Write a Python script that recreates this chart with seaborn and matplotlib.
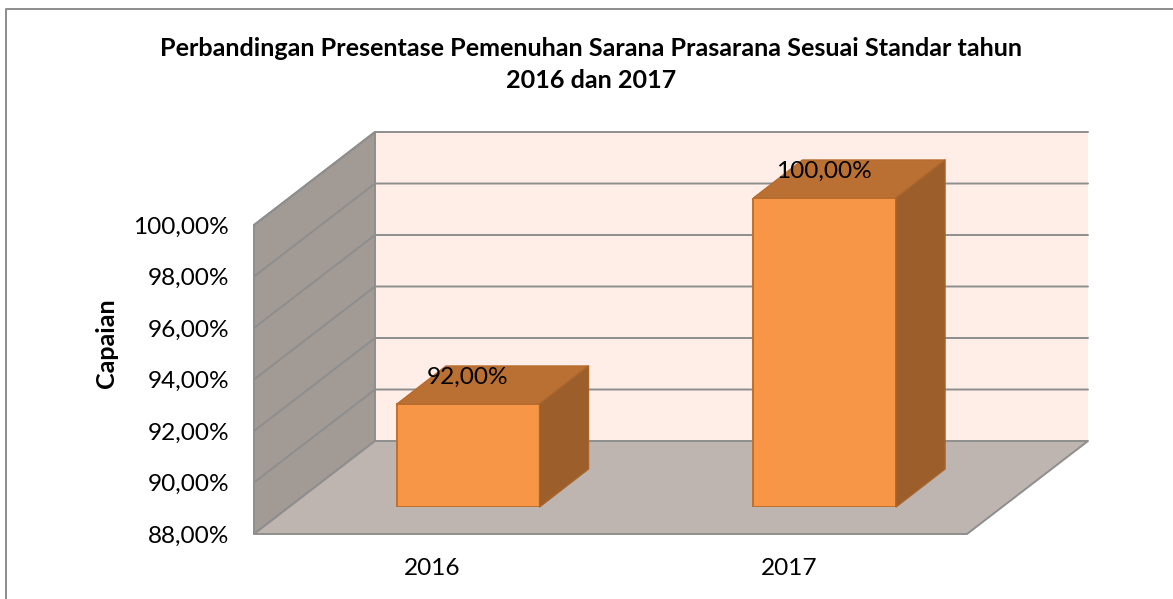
import matplotlib
matplotlib.use('Agg')
import matplotlib.pyplot as plt
import seaborn as sns
from matplotlib.patches import Polygon
from matplotlib.transforms import IdentityTransform

# Data
tahun = ['2016', '2017']
capaian = [92.0, 100.0]
y_ticks = [88, 90, 92, 94, 96, 98, 100]
judul = 'Perbandingan Presentase Pemenuhan Sarana Prasarana Sesuai Standar tahun\n2016 dan 2017'

W, H = 1173, 599
Y_MIN, Y_MAX = 88, 100

sns.set_theme(style='white')
plt.rcParams['font.family'] = ['Lato', 'DejaVu Sans']

fig = plt.figure(figsize=(W / 100, H / 100), dpi=100)


def pixel_axes(left, top, right, bottom):
    # axes placed by image pixels (y counted from the top)
    return fig.add_axes([left / W, 1 - bottom / H, (right - left) / W, (bottom - top) / H])


def tick_label(v):
    return f'{v:.2f}'.replace('.', ',') + '%'


# front plane of the 3D box holds the axis labels
ax = pixel_axes(254, 225, 967, 534)
ax.set_xlim(-0.5, 1.5)
ax.set_ylim(Y_MIN, Y_MAX)
ax.patch.set_visible(False)
for s in ax.spines.values():
    s.set_visible(False)
ax.set_xticks(range(len(tahun)), tahun)
ax.set_yticks(y_ticks, [tick_label(v) for v in y_ticks])
ax.tick_params(length=0, labelsize=17.6, labelcolor='black', pad=18, axis='y')
ax.tick_params(length=0, labelsize=17.6, labelcolor='black', pad=17, axis='x')
ax.set_ylabel('Capaian', fontsize=18, fontweight='bold', color='black')
ax.yaxis.set_label_coords(-0.191, 0.618)

fig.canvas.draw()
pix = IdentityTransform()
DX, DY = 121, 93  # depth of the box, pixels
GRID = '#8e8e8e'


def front(x, y):
    return ax.transData.transform((x, y))


def back(x, y):
    return front(x, y) + (DX, DY)


def face(points, color, target, edge='none', lw=0.0):
    target.add_patch(Polygon(points, closed=True, facecolor=color, edgecolor=edge, linewidth=lw,
                             transform=pix, clip_on=False, joinstyle='round'))


x0, x1 = ax.get_xlim()
face([back(x0, Y_MIN), back(x1, Y_MIN), back(x1, Y_MAX), back(x0, Y_MAX)], '#feeee7', ax)
face([front(x0, Y_MIN), back(x0, Y_MIN), back(x0, Y_MAX), front(x0, Y_MAX)], '#a29a95', ax, GRID, 1.4)
face([front(x0, Y_MIN), front(x1, Y_MIN), back(x1, Y_MIN), back(x0, Y_MIN)], '#bfb5b0', ax, GRID, 1.4)

for v in y_ticks[1:]:
    p0, p1, p2 = front(x0, v), back(x0, v), back(x1, v)
    ax.plot([p0[0], p1[0], p2[0]], [p0[1], p1[1], p2[1]], color=GRID, lw=1.4, transform=pix, clip_on=False)

# bars stand part way into the box
ax_bar = pixel_axes(290, 198, 1003, 507)
ax_bar.patch.set_visible(False)
sns.barplot(x=tahun, y=capaian, ax=ax_bar, color='#f79646', saturation=1, width=0.4,
            edgecolor='#c0702e', linewidth=1.4)
ax_bar.set_xlim(-0.5, 1.5)
ax_bar.set_ylim(Y_MIN, Y_MAX)
ax_bar.axis('off')
fig.canvas.draw()

BX, BY = 49, 38  # bar depth, pixels
for bar, val in zip(ax_bar.patches, capaian):
    bar.set_y(Y_MIN)
    bar.set_height(val - Y_MIN)
    l, r = bar.get_x(), bar.get_x() + bar.get_width()
    a = ax_bar.transData.transform((l, val))
    b = ax_bar.transData.transform((r, val))
    c = ax_bar.transData.transform((r, Y_MIN))
    off = (BX, BY)
    face([a, b, b + off, a + off], '#ba7033', ax_bar, '#b56a2e', 1.0)
    face([b, c, c + off, b + off], '#9c5e2a', ax_bar, '#a9652c', 1.0)
    ax_bar.annotate(tick_label(val), xy=((l + r) / 2, val), xytext=(-0.5, 27), textcoords='offset pixels',
                    ha='center', va='center', fontsize=17.6, color='black', zorder=5)

fig.text(591 / W, 1 - 64.5 / H, judul, ha='center', va='center', fontsize=18.1, fontweight='bold',
         color='black', linespacing=1.52)

# chart frame: only the left and top edges fall inside the picture
fig.add_artist(plt.Line2D([5.5 / W, 5.5 / W, 1], [0, 1 - 9 / H, 1 - 9 / H], transform=fig.transFigure,
                          color='#8c8c8c', lw=1.4))

fig.savefig('out.png', dpi=100)
